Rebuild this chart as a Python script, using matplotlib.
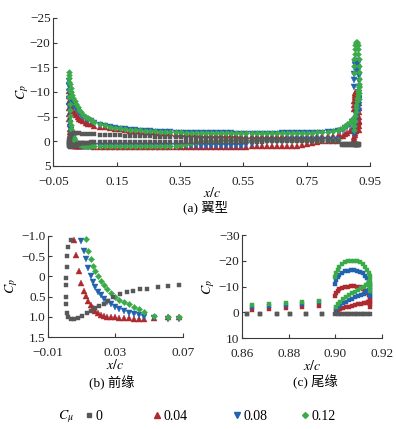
import matplotlib
matplotlib.use("Agg")
import matplotlib.pyplot as plt
from matplotlib.lines import Line2D

plt.rcParams["font.family"] = ["Liberation Serif", "Noto Sans CJK SC"]
plt.rcParams["mathtext.fontset"] = "stix"
plt.rcParams["font.size"] = 9.5

# ---- data (x/c, Cp) ----
# shared x stations of the upper surface (coloured cases)
X_UP_LE = [0.0000, 0.0010, 0.0025, 0.0045, 0.0070, 0.0100, 0.0135, 0.0175,
           0.0220, 0.0270, 0.0325, 0.0385, 0.0450, 0.0520, 0.0595, 0.0675]
X_MID = [0.080, 0.096, 0.112, 0.128, 0.144, 0.160, 0.176, 0.192,
         0.208, 0.224, 0.240, 0.256, 0.272, 0.288, 0.304, 0.320,
         0.336, 0.352, 0.368, 0.384, 0.400, 0.416, 0.432, 0.448,
         0.464, 0.480, 0.496, 0.512, 0.528, 0.544, 0.560, 0.576,
         0.592, 0.608, 0.624, 0.640, 0.656, 0.672, 0.688, 0.704,
         0.720, 0.736, 0.752, 0.768, 0.784, 0.800, 0.816, 0.832,
         0.848]
X_UP_TE = [0.8560, 0.8641, 0.8716, 0.8788, 0.8859, 0.8931]
# lower surface stations near the leading edge
X_LO_LE = [0.0000, 0.0002, 0.0005, 0.0009, 0.0014, 0.0020, 0.0028, 0.0038,
           0.0050, 0.0065, 0.0080, 0.0095, 0.0110, 0.0124, 0.0138, 0.0152,
           0.0166, 0.0180, 0.0196, 0.0212, 0.0230, 0.0250, 0.0272, 0.0296,
           0.0322, 0.0350, 0.0380, 0.0410, 0.0440, 0.0470, 0.0530, 0.0610,
           0.0680]
# Coanda trailing edge, upper arc and lower arc
X_CO_UP = [0.9000, 0.9004, 0.9010, 0.9018, 0.9028, 0.9040, 0.9053, 0.9067,
           0.9081, 0.9095, 0.9108, 0.9120, 0.9130, 0.9138, 0.9144, 0.9148,
           0.9150, 0.9151, 0.9151, 0.9150]
X_CO_LO = [0.9003, 0.9010, 0.9020, 0.9032, 0.9045, 0.9059, 0.9073, 0.9087,
           0.9100, 0.9112, 0.9123, 0.9133, 0.9141, 0.9147]

# Cmu = 0.04
CP_UP_004 = [-10.2, -9.2, -8.4, -7.7, -7.1, -6.6, -6.1, -5.7,
             -5.3, -4.9, -4.6, -4.3, -4.05, -3.8, -3.6, -3.42,
             -3.20, -3.00, -2.82, -2.66, -2.52, -2.40, -2.29, -2.19,
             -2.10, -2.02, -1.94, -1.87, -1.80, -1.74, -1.68, -1.62,
             -1.57, -1.52, -1.48, -1.44, -1.40, -1.37, -1.34, -1.31,
             -1.28, -1.26, -1.24, -1.22, -1.20, -1.18, -1.16, -1.15,
             -1.13, -1.12, -1.11, -1.10, -1.09, -1.08, -1.07, -1.06,
             -1.05, -1.04, -1.03, -1.02, -1.01, -1.00, -1.00, -1.00,
             -1.00,
             -1.00, -1.10, -1.40, -1.70, -2.10, -2.50]
CP_LO_004 = [-8.0, -6.8, -5.6, -4.5, -3.5, -2.6, -1.9, -1.3,
             -0.90, -0.52, -0.13, 0.17, 0.35, 0.48, 0.60, 0.71,
             0.79, 0.86, 0.91, 0.94, 0.97, 0.99, 1.00, 1.01,
             1.02, 1.03, 1.03, 1.04, 1.04, 1.04, 1.02, 1.00,
             0.99,
             1.05, 1.05, 1.05, 1.05, 1.05, 1.05, 1.05, 1.05,
             1.05, 1.05, 1.05, 1.05, 1.05, 1.05, 1.05, 1.05,
             1.05, 1.05, 1.05, 1.05, 1.05, 1.05, 1.05, 1.05,
             1.05, 1.05, 1.05, 1.05, 1.05, 1.05, 1.05, 1.04,
             1.04, 1.04, 1.04, 1.04, 1.04, 1.04, 1.03, 1.00,
             0.95, 0.80, 0.55, 0.30, 0.10, -0.02, -0.08, -0.10,
             -0.12]
CP_CO_UP_004 = [-6.5, -7.4, -8.2, -8.9, -9.4, -9.8, -10.0, -10.1,
                -10.1, -10.0, -9.7, -9.2, -8.5, -7.7, -6.8, -5.9,
                -5.0, -4.1, -3.2, -2.3]
CP_CO_LO_004 = [-0.5, -0.9, -1.3, -1.7, -2.0, -2.3, -2.6, -2.9,
                -3.2, -3.4, -3.6, -3.8, -4.0, -4.2]

# Cmu = 0.08
CP_UP_008 = [-12.2, -11.2, -10.3, -9.5, -8.8, -8.2, -7.6, -7.1,
             -6.6, -6.1, -5.7, -5.3, -4.95, -4.6, -4.3, -4.05,
             -3.70, -3.40, -3.12, -2.90, -2.70, -2.55, -2.42, -2.31,
             -2.21, -2.13, -2.06, -2.00, -1.95, -1.90, -1.85, -1.81,
             -1.78, -1.75, -1.72, -1.70, -1.68, -1.66, -1.65, -1.63,
             -1.62, -1.61, -1.60, -1.59, -1.58, -1.58, -1.57, -1.57,
             -1.57, -1.57, -1.57, -1.58, -1.58, -1.59, -1.60, -1.61,
             -1.63, -1.65, -1.67, -1.70, -1.74, -1.79, -1.85, -1.93,
             -2.03,
             -2.18, -2.30, -2.65, -2.95, -3.40, -3.95]
CP_LO_008 = [-11.5, -10.0, -8.6, -7.2, -5.9, -4.7, -3.7, -2.9,
             -2.2, -1.6, -1.2, -0.87, -0.62, -0.42, -0.20, -0.02,
             0.14, 0.27, 0.38, 0.47, 0.55, 0.62, 0.69, 0.75,
             0.80, 0.85, 0.89, 0.93, 0.96, 0.99, 1.03, 1.05,
             1.05,
             1.03, 1.03, 1.03, 1.03, 1.03, 1.03, 1.03, 1.03,
             1.03, 1.03, 1.03, 1.03, 1.03, 1.03, 1.03, 1.03,
             1.03, 1.03, 1.03, 1.03, 1.03, 1.03, 1.03, 1.03,
             1.03, 1.02, 1.02, 1.01, 0.98, 0.92, 0.78, 0.55,
             0.30, 0.10, -0.03, -0.10, -0.14, -0.16, -0.18, -0.19,
             -0.20, -0.20, -0.21, -0.21, -0.22, -0.22, -0.23, -0.24,
             -0.26]
CP_CO_UP_008 = [-11.0, -12.4, -13.6, -14.6, -15.4, -15.9, -16.2, -16.3,
                -16.3, -16.1, -15.7, -15.1, -14.3, -13.3, -12.2, -11.0,
                -9.8, -8.6, -7.4, -6.2]
CP_CO_LO_008 = [-1.4, -2.1, -2.8, -3.5, -4.1, -4.7, -5.3, -5.8,
                -6.3, -6.8, -7.3, -7.8, -8.3, -8.8]

# Cmu = 0.12
CP_UP_012 = [-14.0, -12.8, -11.7, -10.8, -10.0, -9.4, -8.8, -8.2,
             -7.6, -7.0, -6.4, -5.9, -5.4, -5.0, -4.65, -4.3,
             -3.90, -3.55, -3.25, -3.00, -2.80, -2.63, -2.50, -2.38,
             -2.28, -2.20, -2.12, -2.05, -2.00, -1.95, -1.90, -1.86,
             -1.83, -1.80, -1.77, -1.75, -1.73, -1.71, -1.70, -1.68,
             -1.67, -1.66, -1.65, -1.64, -1.63, -1.63, -1.62, -1.62,
             -1.62, -1.62, -1.63, -1.63, -1.64, -1.65, -1.66, -1.68,
             -1.70, -1.72, -1.75, -1.79, -1.84, -1.90, -1.98, -2.08,
             -2.22,
             -2.40, -2.80, -3.15, -3.50, -4.00, -4.60]
CP_LO_012 = [-13.5, -12.0, -10.5, -9.0, -7.6, -6.3, -5.1, -4.1,
             -3.3, -2.6, -2.0, -1.6, -1.25, -0.92, -0.62, -0.42,
             -0.25, -0.12, 0.00, 0.11, 0.22, 0.32, 0.42, 0.50,
             0.57, 0.63, 0.69, 0.75, 0.81, 0.88, 0.97, 1.00,
             1.00,
             1.00, 1.00, 1.01, 1.01, 1.01, 1.02, 1.02, 1.02,
             1.02, 1.02, 1.02, 1.02, 1.01, 1.01, 1.00, 0.98,
             0.93, 0.80, 0.60, 0.38, 0.18, 0.03, -0.07, -0.12,
             -0.15, -0.17, -0.18, -0.19, -0.20, -0.20, -0.21, -0.21,
             -0.22, -0.22, -0.22, -0.23, -0.23, -0.23, -0.24, -0.24,
             -0.24, -0.25, -0.25, -0.25, -0.26, -0.26, -0.27, -0.28,
             -0.30]
CP_CO_UP_012 = [-13.8, -15.2, -16.6, -17.8, -18.8, -19.5, -19.9, -20.1,
                -20.1, -19.9, -19.5, -18.8, -17.8, -16.6, -15.3, -14.0,
                -12.6, -11.2, -9.8, -8.5]
CP_CO_LO_012 = [-2.2, -3.2, -4.2, -5.1, -5.9, -6.7, -7.4, -8.1,
                -8.7, -9.3, -9.9, -10.5, -11.1, -11.7]

# Cmu = 0 (own stations)
GRAY_X_UP = [0.0035, 0.0019, 0.0013, 0.0010, 0.0004, 0.0060, 0.0100, 0.0150,
             0.0220, 0.0300, 0.0400, 0.0520, 0.0660]
GRAY_CP_UP = [-0.89, -0.73, -0.50, -0.24, 0.05, -1.30, -1.55, -1.62,
              -1.62, -1.60, -1.56, -1.52, -1.47,
              -1.42, -1.37, -1.33, -1.29, -1.25, -1.21, -1.17, -1.13,
              -1.09, -1.05, -1.01, -0.98, -0.95, -0.92, -0.89, -0.86,
              -0.83, -0.80, -0.77, -0.74, -0.72, -0.69, -0.67, -0.64,
              -0.62, -0.60, -0.57, -0.55, -0.53, -0.51, -0.49, -0.47,
              -0.45, -0.43, -0.41, -0.39, -0.37, -0.35, -0.33, -0.31,
              -0.29, -0.27, -0.25, -0.23, -0.21, -0.19, -0.17, -0.14,
              -0.10,
              0.55, 0.60, 0.55, 0.60, 0.55, 0.60]
GRAY_X_LO = [0.0004, 0.0004, 0.0005, 0.0010, 0.0020, 0.0035, 0.0055, 0.0079,
             0.0102, 0.0128, 0.0154, 0.0178, 0.0204, 0.0233, 0.0257, 0.0283,
             0.0327, 0.0367, 0.0406, 0.0446, 0.0486, 0.0555, 0.0614, 0.0678]
GRAY_CP_LO = [0.21, 0.50, 0.67, 0.89, 0.99, 1.06, 1.06, 1.02,
              0.97, 0.91, 0.85, 0.79, 0.73, 0.67, 0.60, 0.52,
              0.44, 0.39, 0.35, 0.32, 0.30, 0.27, 0.24, 0.21,
              0.20, 0.20, 0.19, 0.19, 0.18, 0.18, 0.17, 0.17,
              0.16, 0.16, 0.15, 0.15, 0.14, 0.14, 0.13, 0.13,
              0.12, 0.12, 0.11, 0.11, 0.10, 0.10, 0.09, 0.09,
              0.08, 0.08, 0.07, 0.07, 0.06, 0.06, 0.05, 0.05,
              0.04, 0.04, 0.03, 0.03, 0.02, 0.02, 0.01, 0.01,
              0.00, 0.00, 0.00, 0.00, 0.00, 0.00, 0.00, 0.00,
              0.00,
              0.65, 0.70, 0.65, 0.70, 0.65, 0.70]
GRAY_X_TE = [0.8619, 0.8676, 0.8748, 0.8805, 0.8873, 0.8942]
GRAY_X_CO = [0.9000, 0.9010, 0.9020, 0.9030, 0.9040, 0.9050, 0.9060, 0.9070,
             0.9080, 0.9090, 0.9100, 0.9110, 0.9120, 0.9130, 0.9140, 0.9148]
GRAY_CP_CO = [0.55, 0.65, 0.55, 0.65, 0.55, 0.65, 0.55, 0.65,
              0.55, 0.65, 0.55, 0.65, 0.55, 0.65, 0.55, 0.65]

CMU_LABELS = ["0", "0.04", "0.08", "0.12"]
COLORS = ["#585858", "#ad2b2e", "#2262b0", "#3bab4a"]
MARKERS = ["s", "^", "v", "D"]
MSIZE = [3.3, 3.8, 3.8, 3.0]

# assemble x / Cp for every case
x_up = X_UP_LE + X_MID + X_UP_TE
x_lo = X_LO_LE + X_MID
gray_x = GRAY_X_UP + X_MID + GRAY_X_TE + GRAY_X_LO + X_MID + GRAY_X_TE + GRAY_X_CO
gray_cp = GRAY_CP_UP + GRAY_CP_LO + GRAY_CP_CO
cases = [(gray_x, gray_cp)]
for up, lo, cu, cl in [(CP_UP_004, CP_LO_004, CP_CO_UP_004, CP_CO_LO_004),
                       (CP_UP_008, CP_LO_008, CP_CO_UP_008, CP_CO_LO_008),
                       (CP_UP_012, CP_LO_012, CP_CO_UP_012, CP_CO_LO_012)]:
    cases.append((x_up + x_lo + X_CO_UP + X_CO_LO, up + lo + cu + cl))
for xs, cs in cases:
    assert len(xs) == len(cs), (len(xs), len(cs))

W, H = 396, 429
fig = plt.figure(figsize=(W / 100, H / 100), dpi=100)


def px_axes(l, t, r, b):
    return fig.add_axes([l / W, 1 - b / H, (r - l) / W, (b - t) / H])


def style(ax):
    for s in ("top", "right"):
        ax.spines[s].set_visible(False)
    for s in ("left", "bottom"):
        ax.spines[s].set_color("#3a3a3a")
        ax.spines[s].set_linewidth(0.8)
    ax.tick_params(direction="in", length=3, width=0.8, colors="#3a3a3a",
                   labelcolor="#222222", labelsize=9.5)
    ax.tick_params(axis="x", pad=7)
    ax.tick_params(axis="y", pad=2)


def draw(ax, scale=1.0, squares=False):
    # coloured cases first, Cmu=0 on top
    for i in [1, 2, 3, 0]:
        xs, cs = cases[i]
        m = "s" if squares else MARKERS[i]
        ms = 2.7 if squares else MSIZE[i] * scale
        ax.plot(xs, cs, ls="none", marker=m, ms=ms, color=COLORS[i],
                mec=COLORS[i], mew=0.3, zorder=3 if i == 0 else 2)


ax_a = px_axes(53.3, 18, 370, 166)
ax_b = px_axes(48.3, 235.7, 182.7, 337.3)
ax_c = px_axes(242.3, 235, 381.7, 338.3)

draw(ax_a)
ax_a.set_xlim(-0.05, 0.95)
ax_a.set_ylim(5, -25)
ax_a.set_xticks([-0.05, 0.15, 0.35, 0.55, 0.75, 0.95])
ax_a.set_yticks([-25, -20, -15, -10, -5, 0, 5])

draw(ax_b, scale=1.05)
ax_b.set_xlim(-0.01, 0.07)
ax_b.set_ylim(1.5, -1.0)
ax_b.set_xticks([-0.01, 0.03, 0.07])
ax_b.set_yticks([-1.0, -0.5, 0, 0.5, 1.0, 1.5])
ax_b.set_yticklabels(["\u22121.0", "\u22120.5", "0", "0.5", "1.0", "1.5"])

draw(ax_c, squares=True)
ax_c.set_xlim(0.86, 0.92)
ax_c.set_ylim(10, -30)
ax_c.set_xticks([0.86, 0.88, 0.90, 0.92])
ax_c.set_yticks([-30, -20, -10, 0, 10])

for ax in (ax_a, ax_b, ax_c):
    style(ax)
    ax.set_xlabel("$x/c$", fontsize=10, labelpad=-1)
ax_a.set_ylabel("$C_p$", fontsize=10, labelpad=-1)
ax_b.set_ylabel("$C_p$", fontsize=10, labelpad=1)
ax_c.set_ylabel("$C_p$", fontsize=10, labelpad=1)

fig.text(205 / W, 1 - 207 / H, "(a) 翼型", ha="center", va="center", fontsize=9.5)
fig.text(112 / W, 1 - 383 / H, "(b) 前缘", ha="center", va="center", fontsize=9.5)
fig.text(315 / W, 1 - 382 / H, "(c) 尾缘", ha="center", va="center", fontsize=9.5)

# legend row
fig.text(66 / W, 1 - 417 / H, "$C_\\mu$", ha="center", va="center", fontsize=10)
for i, xm in enumerate([89, 157, 237, 305]):
    h = Line2D([], [], ls="none", marker=MARKERS[i], ms=MSIZE[i],
               color=COLORS[i])
    fig.legend([h], [CMU_LABELS[i]], loc="center left",
               bbox_to_anchor=((xm - 3.5) / W, 1 - 416 / H), frameon=False,
               handlelength=0.5, handletextpad=0.2, borderpad=0,
               borderaxespad=0, fontsize=10)

fig.savefig("out.png", dpi=100)
